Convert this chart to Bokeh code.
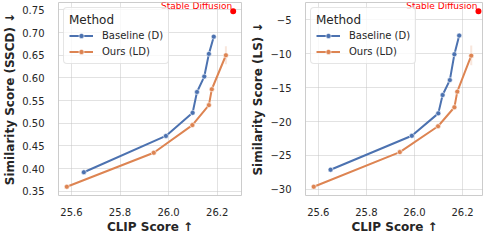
from bokeh.plotting import figure
from bokeh.layouts import row
from bokeh.models import Range1d, FixedTicker, PrintfTickFormatter, Legend, LegendItem
from bokeh.embed import file_html
from bokeh.resources import INLINE
from bokeh.core.properties import value

# ---- data ----
methods = ["Baseline (D)", "Ours (LD)"]
clip_baseline = [25.651, 25.989, 26.099, 26.117, 26.147, 26.166, 26.186]
clip_ours = [25.581, 25.939, 26.098, 26.166, 26.178, 26.236]
sscd_baseline = [0.392, 0.472, 0.523, 0.569, 0.603, 0.653, 0.691]
sscd_ours = [0.360, 0.435, 0.496, 0.540, 0.575, 0.650]
ls_baseline = [-27.1, -22.1, -18.8, -16.1, -13.9, -10.1, -7.35]
ls_ours = [-29.6, -24.5, -20.7, -17.9, -15.6, -10.3]
sd_label = "Stable Diffusion"
sd_clip = 26.266
sd_sscd = 0.747
sd_ls = -3.77
# faint confidence band at last "Ours" point
ours_ci_sscd = [0.630, 0.670]
ours_ci_ls = [-11.7, -8.8]

x_ticks = [25.6, 25.8, 26.0, 26.2]
sscd_ticks = [0.35, 0.40, 0.45, 0.50, 0.55, 0.60, 0.65, 0.70, 0.75]
ls_ticks = [-30, -25, -20, -15, -10, -5]

BLUE = "#4c72b0"
ORANGE = "#dd8452"
TXT = "#262626"
FONT = "DejaVu Sans"


def pad_range(vals, frac=0.05):
    lo, hi = min(vals), max(vals)
    d = (hi - lo) * frac
    return lo - d, hi + d


def panel(width, border_left, border_right, ylabel, yb, yo, ysd, yci, yticks,
          ylabel_fmt=None, overrides=None, x_end=None):
    allx = clip_baseline + clip_ours + [sd_clip]
    x0, x1 = pad_range(allx)
    if x_end is not None:
        x1 = x_end
    y0, y1 = pad_range(yb + yo + [ysd])
    p = figure(width=width, height=236, output_backend="svg", toolbar_location=None,
               x_range=Range1d(x0, x1), y_range=Range1d(y0, y1),
               min_border_left=border_left, min_border_right=border_right,
               min_border_top=2, min_border_bottom=33)
    p.background_fill_color = "white"
    p.border_fill_color = "white"
    p.outline_line_color = "#cccccc"
    p.outline_line_width = 1
    for g in (p.xgrid, p.ygrid):
        g.grid_line_color = "#c4c4c4"
        g.grid_line_dash = "1 1"
        g.grid_line_width = 1

    p.xaxis.ticker = FixedTicker(ticks=x_ticks)
    p.xaxis.formatter = PrintfTickFormatter(format="%.1f")
    p.yaxis.ticker = FixedTicker(ticks=yticks)
    if ylabel_fmt:
        p.yaxis.formatter = PrintfTickFormatter(format=ylabel_fmt)
    if overrides:
        p.yaxis.major_label_overrides = overrides
    for ax in (p.xaxis[0], p.yaxis[0]):
        ax.axis_line_color = None
        ax.major_tick_line_color = None
        ax.minor_tick_line_color = None
        ax.major_label_text_font = FONT
        ax.major_label_text_font_size = "10px"
        ax.major_label_text_color = TXT
        ax.axis_label_text_font = FONT
        ax.axis_label_text_font_size = "12px"
        ax.axis_label_text_font_style = "bold"
        ax.axis_label_text_color = TXT
    p.xaxis.axis_label = "CLIP Score \u2191"
    p.yaxis.axis_label = ylabel
    p.xaxis.major_label_standoff = 6
    p.xaxis.axis_label_standoff = 1
    p.yaxis.major_label_standoff = 8
    p.yaxis.axis_label_standoff = 2

    # faint CI
    p.segment(x0=[clip_ours[-1]], y0=[yci[0]], x1=[clip_ours[-1]], y1=[yci[1]],
              line_color=ORANGE, line_alpha=0.2, line_width=2)

    lb = p.line(clip_baseline, yb, line_color=BLUE, line_width=2)
    sb = p.scatter(clip_baseline, yb, size=5, fill_color=BLUE, line_color="white", line_width=0.6)
    lo = p.line(clip_ours, yo, line_color=ORANGE, line_width=2)
    so = p.scatter(clip_ours, yo, size=5, fill_color=ORANGE, line_color="white", line_width=0.6)

    p.scatter([sd_clip], [ysd], size=6, fill_color="red", line_color=None)
    p.text(x=[sd_clip], y=[ysd], text=[sd_label], text_align="right", text_baseline="bottom",
           text_font=value(FONT), text_font_size="9px", text_color="red", x_offset=-1)

    leg = Legend(items=[LegendItem(label=methods[0], renderers=[lb, sb]),
                        LegendItem(label=methods[1], renderers=[lo, so])],
                 location="top_left", title="Method")
    leg.title_text_font = FONT
    leg.title_text_font_size = "12px"
    leg.title_text_font_style = "normal"
    leg.title_text_color = TXT
    leg.title_text_align = "center"
    leg.title_standoff = 2
    leg.label_text_font = FONT
    leg.label_text_font_size = "10px"
    leg.label_text_color = TXT
    leg.glyph_width = 24
    leg.glyph_height = 13
    leg.label_height = 13
    leg.label_standoff = 9
    leg.spacing = 3
    leg.padding = 5
    leg.margin = 5
    leg.border_line_color = "#cccccc"
    leg.border_line_width = 1
    leg.background_fill_color = "white"
    leg.background_fill_alpha = 0.8
    try:
        leg.border_radius = 4
    except Exception:
        pass
    p.add_layout(leg)
    return p


ls_over = {t: ("\u2212" + str(abs(t)) if t < 0 else str(t)) for t in ls_ticks}

p1 = panel(248, 46, 7, "Similarity Score (SSCD) \u2193", sscd_baseline, sscd_ours, sd_sscd,
           ours_ci_sscd, sscd_ticks, ylabel_fmt="%.2f")
p2 = panel(235, 46, 0, "Similarity Score (LS) \u2193", ls_baseline, ls_ours, sd_ls,
           ours_ci_ls, ls_ticks, overrides=ls_over, x_end=26.287)

layout = row(p1, p2)
open("out.html", "w").write(file_html(layout, INLINE))
